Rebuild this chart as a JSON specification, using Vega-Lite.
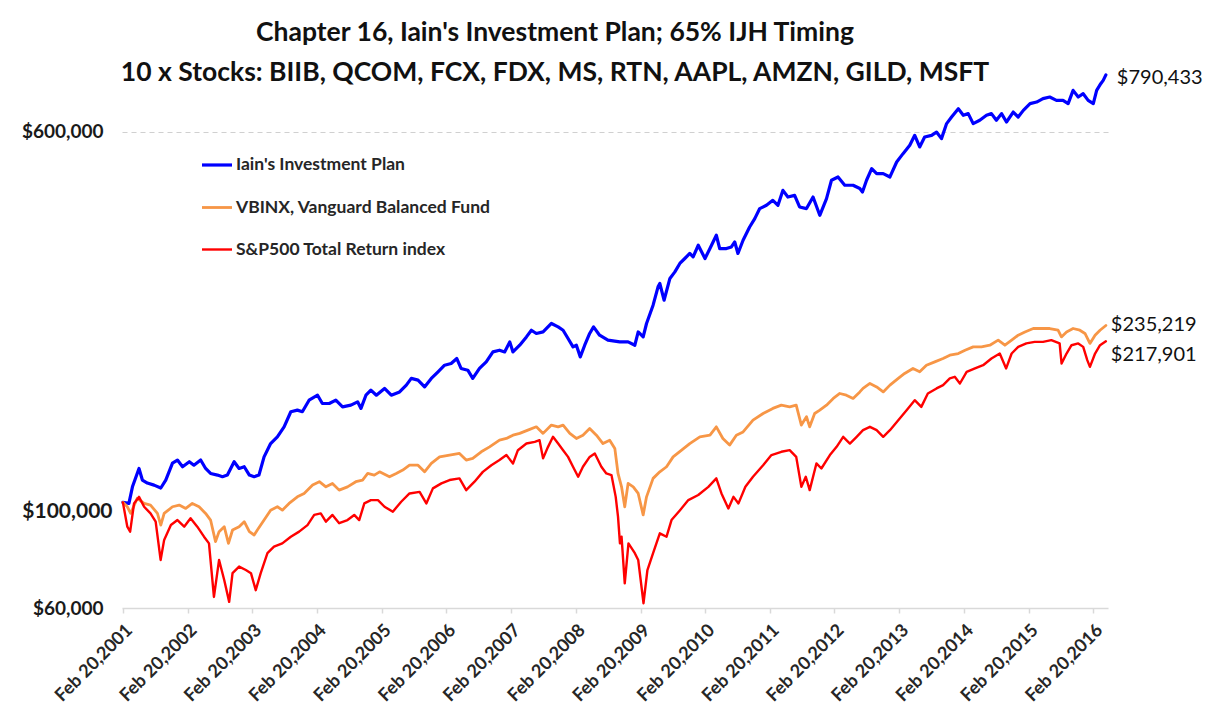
{
"$schema":"https://vega.github.io/schema/vega-lite/v6.json",
"autosize":"none",
"width":986,"height":560,
"padding":{"left":122,"top":48,"right":101,"bottom":106},
"background":"white",
"config":{"view":{"stroke":null},"font":"Lato"},
"title":{"text":["Chapter 16, Iain's Investment Plan; 65% IJH Timing","10 x Stocks: BIIB, QCOM, FCX, FDX, MS, RTN, AAPL, AMZN, GILD, MSFT"],"font":"Lato","fontSize":26.5,"fontWeight":"bold","color":"#111111","anchor":"middle","frame":"group","dx":-60,"offset":-38,"lineHeight":40},
"data":{"values":[
{"series":"Iain's Investment Plan","date":"2001-02-20","value":100000},
{"series":"Iain's Investment Plan","date":"2001-03-26","value":99500},
{"series":"Iain's Investment Plan","date":"2001-04-15","value":107800},
{"series":"Iain's Investment Plan","date":"2001-05-22","value":117800},
{"series":"Iain's Investment Plan","date":"2001-06-10","value":111400},
{"series":"Iain's Investment Plan","date":"2001-07-08","value":109800},
{"series":"Iain's Investment Plan","date":"2001-08-15","value":108700},
{"series":"Iain's Investment Plan","date":"2001-09-22","value":107200},
{"series":"Iain's Investment Plan","date":"2001-10-20","value":111400},
{"series":"Iain's Investment Plan","date":"2001-11-27","value":120900},
{"series":"Iain's Investment Plan","date":"2001-12-25","value":122700},
{"series":"Iain's Investment Plan","date":"2002-01-23","value":118800},
{"series":"Iain's Investment Plan","date":"2002-03-02","value":121700},
{"series":"Iain's Investment Plan","date":"2002-03-28","value":119700},
{"series":"Iain's Investment Plan","date":"2002-05-05","value":122700},
{"series":"Iain's Investment Plan","date":"2002-06-02","value":117800},
{"series":"Iain's Investment Plan","date":"2002-06-30","value":115000},
{"series":"Iain's Investment Plan","date":"2002-08-08","value":114100},
{"series":"Iain's Investment Plan","date":"2002-09-05","value":113200},
{"series":"Iain's Investment Plan","date":"2002-10-03","value":114100},
{"series":"Iain's Investment Plan","date":"2002-11-10","value":121700},
{"series":"Iain's Investment Plan","date":"2002-12-08","value":117800},
{"series":"Iain's Investment Plan","date":"2003-01-06","value":118800},
{"series":"Iain's Investment Plan","date":"2003-02-04","value":114100},
{"series":"Iain's Investment Plan","date":"2003-03-03","value":113200},
{"series":"Iain's Investment Plan","date":"2003-03-30","value":114100},
{"series":"Iain's Investment Plan","date":"2003-04-28","value":124600},
{"series":"Iain's Investment Plan","date":"2003-06-04","value":132900},
{"series":"Iain's Investment Plan","date":"2003-07-12","value":137300},
{"series":"Iain's Investment Plan","date":"2003-08-19","value":144100},
{"series":"Iain's Investment Plan","date":"2003-09-26","value":155000},
{"series":"Iain's Investment Plan","date":"2003-11-02","value":156200},
{"series":"Iain's Investment Plan","date":"2003-11-30","value":155000},
{"series":"Iain's Investment Plan","date":"2004-01-07","value":163900},
{"series":"Iain's Investment Plan","date":"2004-02-24","value":167900},
{"series":"Iain's Investment Plan","date":"2004-03-22","value":161300},
{"series":"Iain's Investment Plan","date":"2004-04-30","value":161300},
{"series":"Iain's Investment Plan","date":"2004-06-06","value":163900},
{"series":"Iain's Investment Plan","date":"2004-07-14","value":158700},
{"series":"Iain's Investment Plan","date":"2004-08-30","value":160000},
{"series":"Iain's Investment Plan","date":"2004-10-07","value":162600},
{"series":"Iain's Investment Plan","date":"2004-10-26","value":157500},
{"series":"Iain's Investment Plan","date":"2004-11-23","value":167900},
{"series":"Iain's Investment Plan","date":"2004-12-21","value":172100},
{"series":"Iain's Investment Plan","date":"2005-01-21","value":167900},
{"series":"Iain's Investment Plan","date":"2005-03-08","value":173500},
{"series":"Iain's Investment Plan","date":"2005-04-15","value":167900},
{"series":"Iain's Investment Plan","date":"2005-06-01","value":170600},
{"series":"Iain's Investment Plan","date":"2005-07-09","value":176300},
{"series":"Iain's Investment Plan","date":"2005-08-06","value":182100},
{"series":"Iain's Investment Plan","date":"2005-09-13","value":180600},
{"series":"Iain's Investment Plan","date":"2005-10-20","value":174800},
{"series":"Iain's Investment Plan","date":"2005-11-27","value":182100},
{"series":"Iain's Investment Plan","date":"2006-01-04","value":188000},
{"series":"Iain's Investment Plan","date":"2006-02-10","value":194100},
{"series":"Iain's Investment Plan","date":"2006-03-19","value":195700},
{"series":"Iain's Investment Plan","date":"2006-04-20","value":200500},
{"series":"Iain's Investment Plan","date":"2006-05-14","value":191100},
{"series":"Iain's Investment Plan","date":"2006-06-21","value":189500},
{"series":"Iain's Investment Plan","date":"2006-07-19","value":182100},
{"series":"Iain's Investment Plan","date":"2006-08-26","value":191100},
{"series":"Iain's Investment Plan","date":"2006-10-03","value":197300},
{"series":"Iain's Investment Plan","date":"2006-11-10","value":207000},
{"series":"Iain's Investment Plan","date":"2006-12-17","value":208700},
{"series":"Iain's Investment Plan","date":"2007-01-15","value":207000},
{"series":"Iain's Investment Plan","date":"2007-02-13","value":217300},
{"series":"Iain's Investment Plan","date":"2007-03-03","value":207000},
{"series":"Iain's Investment Plan","date":"2007-04-10","value":213800},
{"series":"Iain's Investment Plan","date":"2007-05-18","value":222600},
{"series":"Iain's Investment Plan","date":"2007-06-15","value":229900},
{"series":"Iain's Investment Plan","date":"2007-07-13","value":226300},
{"series":"Iain's Investment Plan","date":"2007-08-20","value":228000},
{"series":"Iain's Investment Plan","date":"2007-10-06","value":237500},
{"series":"Iain's Investment Plan","date":"2007-11-13","value":233600},
{"series":"Iain's Investment Plan","date":"2007-12-11","value":229900},
{"series":"Iain's Investment Plan","date":"2008-01-08","value":220900},
{"series":"Iain's Investment Plan","date":"2008-02-05","value":212100},
{"series":"Iain's Investment Plan","date":"2008-02-24","value":213800},
{"series":"Iain's Investment Plan","date":"2008-03-17","value":202100},
{"series":"Iain's Investment Plan","date":"2008-04-11","value":213800},
{"series":"Iain's Investment Plan","date":"2008-05-09","value":226300},
{"series":"Iain's Investment Plan","date":"2008-05-31","value":233600},
{"series":"Iain's Investment Plan","date":"2008-07-04","value":224400},
{"series":"Iain's Investment Plan","date":"2008-08-20","value":219100},
{"series":"Iain's Investment Plan","date":"2008-10-26","value":217300},
{"series":"Iain's Investment Plan","date":"2008-12-12","value":217300},
{"series":"Iain's Investment Plan","date":"2009-01-19","value":213800},
{"series":"Iain's Investment Plan","date":"2009-02-07","value":228000},
{"series":"Iain's Investment Plan","date":"2009-03-07","value":222600},
{"series":"Iain's Investment Plan","date":"2009-03-26","value":237500},
{"series":"Iain's Investment Plan","date":"2009-05-02","value":259500},
{"series":"Iain's Investment Plan","date":"2009-05-30","value":283600},
{"series":"Iain's Investment Plan","date":"2009-06-09","value":288200},
{"series":"Iain's Investment Plan","date":"2009-07-03","value":265800},
{"series":"Iain's Investment Plan","date":"2009-08-05","value":295300},
{"series":"Iain's Investment Plan","date":"2009-09-02","value":304800},
{"series":"Iain's Investment Plan","date":"2009-09-30","value":317500},
{"series":"Iain's Investment Plan","date":"2009-10-28","value":325200},
{"series":"Iain's Investment Plan","date":"2009-11-25","value":333200},
{"series":"Iain's Investment Plan","date":"2009-12-14","value":327700},
{"series":"Iain's Investment Plan","date":"2010-01-12","value":346700},
{"series":"Iain's Investment Plan","date":"2010-02-19","value":325200},
{"series":"Iain's Investment Plan","date":"2010-03-19","value":341200},
{"series":"Iain's Investment Plan","date":"2010-04-24","value":363900},
{"series":"Iain's Investment Plan","date":"2010-05-13","value":341200},
{"series":"Iain's Investment Plan","date":"2010-06-20","value":341200},
{"series":"Iain's Investment Plan","date":"2010-07-18","value":343900},
{"series":"Iain's Investment Plan","date":"2010-08-06","value":352300},
{"series":"Iain's Investment Plan","date":"2010-08-24","value":333200},
{"series":"Iain's Investment Plan","date":"2010-09-22","value":355200},
{"series":"Iain's Investment Plan","date":"2010-10-29","value":378700},
{"series":"Iain's Investment Plan","date":"2010-11-27","value":394400},
{"series":"Iain's Investment Plan","date":"2010-12-25","value":414000},
{"series":"Iain's Investment Plan","date":"2011-02-01","value":420600},
{"series":"Iain's Investment Plan","date":"2011-03-09","value":430900},
{"series":"Iain's Investment Plan","date":"2011-04-07","value":420600},
{"series":"Iain's Investment Plan","date":"2011-05-05","value":452200},
{"series":"Iain's Investment Plan","date":"2011-06-02","value":437800},
{"series":"Iain's Investment Plan","date":"2011-07-10","value":441400},
{"series":"Iain's Investment Plan","date":"2011-08-07","value":417200},
{"series":"Iain's Investment Plan","date":"2011-09-15","value":414000},
{"series":"Iain's Investment Plan","date":"2011-10-22","value":437800},
{"series":"Iain's Investment Plan","date":"2011-11-29","value":400800},
{"series":"Iain's Investment Plan","date":"2012-01-06","value":434400},
{"series":"Iain's Investment Plan","date":"2012-02-03","value":474800},
{"series":"Iain's Investment Plan","date":"2012-03-11","value":482400},
{"series":"Iain's Investment Plan","date":"2012-04-18","value":463400},
{"series":"Iain's Investment Plan","date":"2012-06-04","value":463400},
{"series":"Iain's Investment Plan","date":"2012-07-12","value":456100},
{"series":"Iain's Investment Plan","date":"2012-07-27","value":448700},
{"series":"Iain's Investment Plan","date":"2012-08-19","value":474800},
{"series":"Iain's Investment Plan","date":"2012-09-17","value":502300},
{"series":"Iain's Investment Plan","date":"2012-10-15","value":490300},
{"series":"Iain's Investment Plan","date":"2012-11-21","value":490300},
{"series":"Iain's Investment Plan","date":"2012-12-29","value":482400},
{"series":"Iain's Investment Plan","date":"2013-02-05","value":518600},
{"series":"Iain's Investment Plan","date":"2013-03-13","value":540000},
{"series":"Iain's Investment Plan","date":"2013-04-20","value":562200},
{"series":"Iain's Investment Plan","date":"2013-05-18","value":590000},
{"series":"Iain's Investment Plan","date":"2013-06-15","value":557700},
{"series":"Iain's Investment Plan","date":"2013-07-13","value":585300},
{"series":"Iain's Investment Plan","date":"2013-08-21","value":590000},
{"series":"Iain's Investment Plan","date":"2013-09-18","value":599400},
{"series":"Iain's Investment Plan","date":"2013-10-16","value":580700},
{"series":"Iain's Investment Plan","date":"2013-11-14","value":624400},
{"series":"Iain's Investment Plan","date":"2013-12-12","value":644600},
{"series":"Iain's Investment Plan","date":"2014-01-19","value":671300},
{"series":"Iain's Investment Plan","date":"2014-02-16","value":649900},
{"series":"Iain's Investment Plan","date":"2014-03-16","value":655300},
{"series":"Iain's Investment Plan","date":"2014-04-13","value":624400},
{"series":"Iain's Investment Plan","date":"2014-05-20","value":634500},
{"series":"Iain's Investment Plan","date":"2014-06-27","value":649900},
{"series":"Iain's Investment Plan","date":"2014-07-25","value":655300},
{"series":"Iain's Investment Plan","date":"2014-08-22","value":634500},
{"series":"Iain's Investment Plan","date":"2014-09-20","value":655300},
{"series":"Iain's Investment Plan","date":"2014-10-18","value":629300},
{"series":"Iain's Investment Plan","date":"2014-11-25","value":660300},
{"series":"Iain's Investment Plan","date":"2014-12-23","value":644600},
{"series":"Iain's Investment Plan","date":"2015-01-21","value":665700},
{"series":"Iain's Investment Plan","date":"2015-02-28","value":687600},
{"series":"Iain's Investment Plan","date":"2015-04-06","value":693000},
{"series":"Iain's Investment Plan","date":"2015-05-12","value":704500},
{"series":"Iain's Investment Plan","date":"2015-06-19","value":710000},
{"series":"Iain's Investment Plan","date":"2015-07-27","value":698700},
{"series":"Iain's Investment Plan","date":"2015-09-02","value":698700},
{"series":"Iain's Investment Plan","date":"2015-10-01","value":687600},
{"series":"Iain's Investment Plan","date":"2015-10-29","value":733300},
{"series":"Iain's Investment Plan","date":"2015-11-27","value":710000},
{"series":"Iain's Investment Plan","date":"2015-12-25","value":721600},
{"series":"Iain's Investment Plan","date":"2016-01-22","value":698700},
{"series":"Iain's Investment Plan","date":"2016-02-20","value":687600},
{"series":"Iain's Investment Plan","date":"2016-03-10","value":733300},
{"series":"Iain's Investment Plan","date":"2016-04-02","value":757300},
{"series":"Iain's Investment Plan","date":"2016-04-16","value":769600},
{"series":"Iain's Investment Plan","date":"2016-05-01","value":790433},
{"series":"VBINX, Vanguard Balanced Fund","date":"2001-02-20","value":100000},
{"series":"VBINX, Vanguard Balanced Fund","date":"2001-03-17","value":97900},
{"series":"VBINX, Vanguard Balanced Fund","date":"2001-04-05","value":94800},
{"series":"VBINX, Vanguard Balanced Fund","date":"2001-05-12","value":102000},
{"series":"VBINX, Vanguard Balanced Fund","date":"2001-06-20","value":99500},
{"series":"VBINX, Vanguard Balanced Fund","date":"2001-07-26","value":98700},
{"series":"VBINX, Vanguard Balanced Fund","date":"2001-09-03","value":94800},
{"series":"VBINX, Vanguard Balanced Fund","date":"2001-09-22","value":89600},
{"series":"VBINX, Vanguard Balanced Fund","date":"2001-10-11","value":94800},
{"series":"VBINX, Vanguard Balanced Fund","date":"2001-11-27","value":97900},
{"series":"VBINX, Vanguard Balanced Fund","date":"2002-01-04","value":98700},
{"series":"VBINX, Vanguard Balanced Fund","date":"2002-02-10","value":97100},
{"series":"VBINX, Vanguard Balanced Fund","date":"2002-03-19","value":99500},
{"series":"VBINX, Vanguard Balanced Fund","date":"2002-04-26","value":97900},
{"series":"VBINX, Vanguard Balanced Fund","date":"2002-06-02","value":94800},
{"series":"VBINX, Vanguard Balanced Fund","date":"2002-06-30","value":91800},
{"series":"VBINX, Vanguard Balanced Fund","date":"2002-07-28","value":82700},
{"series":"VBINX, Vanguard Balanced Fund","date":"2002-08-17","value":86800},
{"series":"VBINX, Vanguard Balanced Fund","date":"2002-09-15","value":88900},
{"series":"VBINX, Vanguard Balanced Fund","date":"2002-10-09","value":82000},
{"series":"VBINX, Vanguard Balanced Fund","date":"2002-11-01","value":87500},
{"series":"VBINX, Vanguard Balanced Fund","date":"2002-12-08","value":88900},
{"series":"VBINX, Vanguard Balanced Fund","date":"2003-01-06","value":91100},
{"series":"VBINX, Vanguard Balanced Fund","date":"2003-02-04","value":86800},
{"series":"VBINX, Vanguard Balanced Fund","date":"2003-03-03","value":85400},
{"series":"VBINX, Vanguard Balanced Fund","date":"2003-03-21","value":87500},
{"series":"VBINX, Vanguard Balanced Fund","date":"2003-04-28","value":91800},
{"series":"VBINX, Vanguard Balanced Fund","date":"2003-06-04","value":96300},
{"series":"VBINX, Vanguard Balanced Fund","date":"2003-07-12","value":97900},
{"series":"VBINX, Vanguard Balanced Fund","date":"2003-08-09","value":96300},
{"series":"VBINX, Vanguard Balanced Fund","date":"2003-09-16","value":99500},
{"series":"VBINX, Vanguard Balanced Fund","date":"2003-11-02","value":102700},
{"series":"VBINX, Vanguard Balanced Fund","date":"2003-12-10","value":104400},
{"series":"VBINX, Vanguard Balanced Fund","date":"2004-01-27","value":108700},
{"series":"VBINX, Vanguard Balanced Fund","date":"2004-03-05","value":110500},
{"series":"VBINX, Vanguard Balanced Fund","date":"2004-04-11","value":107800},
{"series":"VBINX, Vanguard Balanced Fund","date":"2004-05-18","value":109600},
{"series":"VBINX, Vanguard Balanced Fund","date":"2004-06-25","value":106100},
{"series":"VBINX, Vanguard Balanced Fund","date":"2004-08-11","value":107800},
{"series":"VBINX, Vanguard Balanced Fund","date":"2004-09-27","value":110500},
{"series":"VBINX, Vanguard Balanced Fund","date":"2004-11-04","value":111400},
{"series":"VBINX, Vanguard Balanced Fund","date":"2004-12-03","value":115000},
{"series":"VBINX, Vanguard Balanced Fund","date":"2005-01-09","value":114100},
{"series":"VBINX, Vanguard Balanced Fund","date":"2005-02-08","value":115900},
{"series":"VBINX, Vanguard Balanced Fund","date":"2005-04-05","value":113200},
{"series":"VBINX, Vanguard Balanced Fund","date":"2005-05-13","value":115000},
{"series":"VBINX, Vanguard Balanced Fund","date":"2005-06-19","value":116900},
{"series":"VBINX, Vanguard Balanced Fund","date":"2005-07-27","value":119700},
{"series":"VBINX, Vanguard Balanced Fund","date":"2005-09-13","value":119700},
{"series":"VBINX, Vanguard Balanced Fund","date":"2005-10-20","value":115900},
{"series":"VBINX, Vanguard Balanced Fund","date":"2005-11-27","value":120700},
{"series":"VBINX, Vanguard Balanced Fund","date":"2006-01-13","value":124600},
{"series":"VBINX, Vanguard Balanced Fund","date":"2006-03-10","value":125700},
{"series":"VBINX, Vanguard Balanced Fund","date":"2006-05-05","value":126700},
{"series":"VBINX, Vanguard Balanced Fund","date":"2006-06-12","value":122700},
{"series":"VBINX, Vanguard Balanced Fund","date":"2006-07-19","value":123700},
{"series":"VBINX, Vanguard Balanced Fund","date":"2006-09-05","value":127700},
{"series":"VBINX, Vanguard Balanced Fund","date":"2006-10-22","value":130800},
{"series":"VBINX, Vanguard Balanced Fund","date":"2006-12-17","value":135100},
{"series":"VBINX, Vanguard Balanced Fund","date":"2007-01-25","value":136200},
{"series":"VBINX, Vanguard Balanced Fund","date":"2007-03-03","value":138400},
{"series":"VBINX, Vanguard Balanced Fund","date":"2007-04-10","value":139600},
{"series":"VBINX, Vanguard Balanced Fund","date":"2007-05-26","value":141800},
{"series":"VBINX, Vanguard Balanced Fund","date":"2007-07-13","value":144100},
{"series":"VBINX, Vanguard Balanced Fund","date":"2007-08-20","value":139600},
{"series":"VBINX, Vanguard Balanced Fund","date":"2007-10-06","value":145300},
{"series":"VBINX, Vanguard Balanced Fund","date":"2007-11-13","value":144100},
{"series":"VBINX, Vanguard Balanced Fund","date":"2007-12-11","value":145300},
{"series":"VBINX, Vanguard Balanced Fund","date":"2008-01-18","value":139600},
{"series":"VBINX, Vanguard Balanced Fund","date":"2008-02-24","value":136200},
{"series":"VBINX, Vanguard Balanced Fund","date":"2008-04-01","value":138400},
{"series":"VBINX, Vanguard Balanced Fund","date":"2008-05-09","value":143000},
{"series":"VBINX, Vanguard Balanced Fund","date":"2008-06-16","value":138400},
{"series":"VBINX, Vanguard Balanced Fund","date":"2008-07-23","value":132900},
{"series":"VBINX, Vanguard Balanced Fund","date":"2008-08-30","value":135100},
{"series":"VBINX, Vanguard Balanced Fund","date":"2008-09-28","value":129800},
{"series":"VBINX, Vanguard Balanced Fund","date":"2008-10-16","value":115000},
{"series":"VBINX, Vanguard Balanced Fund","date":"2008-11-05","value":107800},
{"series":"VBINX, Vanguard Balanced Fund","date":"2008-11-23","value":97900},
{"series":"VBINX, Vanguard Balanced Fund","date":"2008-12-12","value":109600},
{"series":"VBINX, Vanguard Balanced Fund","date":"2009-01-10","value":107800},
{"series":"VBINX, Vanguard Balanced Fund","date":"2009-02-07","value":104400},
{"series":"VBINX, Vanguard Balanced Fund","date":"2009-03-07","value":94100},
{"series":"VBINX, Vanguard Balanced Fund","date":"2009-03-26","value":102700},
{"series":"VBINX, Vanguard Balanced Fund","date":"2009-05-02","value":112300},
{"series":"VBINX, Vanguard Balanced Fund","date":"2009-06-09","value":115900},
{"series":"VBINX, Vanguard Balanced Fund","date":"2009-07-17","value":118800},
{"series":"VBINX, Vanguard Balanced Fund","date":"2009-08-23","value":124600},
{"series":"VBINX, Vanguard Balanced Fund","date":"2009-10-10","value":128700},
{"series":"VBINX, Vanguard Balanced Fund","date":"2009-11-25","value":132900},
{"series":"VBINX, Vanguard Balanced Fund","date":"2010-01-21","value":137300},
{"series":"VBINX, Vanguard Balanced Fund","date":"2010-03-19","value":138400},
{"series":"VBINX, Vanguard Balanced Fund","date":"2010-04-24","value":144100},
{"series":"VBINX, Vanguard Balanced Fund","date":"2010-05-31","value":136200},
{"series":"VBINX, Vanguard Balanced Fund","date":"2010-07-08","value":131900},
{"series":"VBINX, Vanguard Balanced Fund","date":"2010-08-15","value":138400},
{"series":"VBINX, Vanguard Balanced Fund","date":"2010-09-22","value":140600},
{"series":"VBINX, Vanguard Balanced Fund","date":"2010-11-17","value":148800},
{"series":"VBINX, Vanguard Balanced Fund","date":"2011-01-13","value":153700},
{"series":"VBINX, Vanguard Balanced Fund","date":"2011-03-09","value":157500},
{"series":"VBINX, Vanguard Balanced Fund","date":"2011-04-26","value":160000},
{"series":"VBINX, Vanguard Balanced Fund","date":"2011-06-12","value":158700},
{"series":"VBINX, Vanguard Balanced Fund","date":"2011-07-19","value":160000},
{"series":"VBINX, Vanguard Balanced Fund","date":"2011-08-17","value":145300},
{"series":"VBINX, Vanguard Balanced Fund","date":"2011-09-15","value":151300},
{"series":"VBINX, Vanguard Balanced Fund","date":"2011-10-03","value":144100},
{"series":"VBINX, Vanguard Balanced Fund","date":"2011-10-31","value":153700},
{"series":"VBINX, Vanguard Balanced Fund","date":"2011-11-29","value":156200},
{"series":"VBINX, Vanguard Balanced Fund","date":"2012-01-06","value":160000},
{"series":"VBINX, Vanguard Balanced Fund","date":"2012-02-13","value":165300},
{"series":"VBINX, Vanguard Balanced Fund","date":"2012-03-21","value":169300},
{"series":"VBINX, Vanguard Balanced Fund","date":"2012-04-27","value":167900},
{"series":"VBINX, Vanguard Balanced Fund","date":"2012-06-04","value":165300},
{"series":"VBINX, Vanguard Balanced Fund","date":"2012-07-12","value":170600},
{"series":"VBINX, Vanguard Balanced Fund","date":"2012-07-30","value":173500},
{"series":"VBINX, Vanguard Balanced Fund","date":"2012-09-07","value":177700},
{"series":"VBINX, Vanguard Balanced Fund","date":"2012-10-15","value":174800},
{"series":"VBINX, Vanguard Balanced Fund","date":"2012-11-21","value":170600},
{"series":"VBINX, Vanguard Balanced Fund","date":"2012-12-29","value":176300},
{"series":"VBINX, Vanguard Balanced Fund","date":"2013-02-14","value":182100},
{"series":"VBINX, Vanguard Balanced Fund","date":"2013-03-22","value":186500},
{"series":"VBINX, Vanguard Balanced Fund","date":"2013-05-08","value":191100},
{"series":"VBINX, Vanguard Balanced Fund","date":"2013-06-15","value":188000},
{"series":"VBINX, Vanguard Balanced Fund","date":"2013-07-23","value":194100},
{"series":"VBINX, Vanguard Balanced Fund","date":"2013-09-08","value":197300},
{"series":"VBINX, Vanguard Balanced Fund","date":"2013-10-25","value":200500},
{"series":"VBINX, Vanguard Balanced Fund","date":"2013-12-02","value":203800},
{"series":"VBINX, Vanguard Balanced Fund","date":"2014-01-19","value":205400},
{"series":"VBINX, Vanguard Balanced Fund","date":"2014-02-26","value":208700},
{"series":"VBINX, Vanguard Balanced Fund","date":"2014-04-13","value":212100},
{"series":"VBINX, Vanguard Balanced Fund","date":"2014-05-30","value":212100},
{"series":"VBINX, Vanguard Balanced Fund","date":"2014-07-16","value":213800},
{"series":"VBINX, Vanguard Balanced Fund","date":"2014-09-01","value":219100},
{"series":"VBINX, Vanguard Balanced Fund","date":"2014-10-09","value":213800},
{"series":"VBINX, Vanguard Balanced Fund","date":"2014-11-16","value":219100},
{"series":"VBINX, Vanguard Balanced Fund","date":"2014-12-23","value":224400},
{"series":"VBINX, Vanguard Balanced Fund","date":"2015-01-30","value":228000},
{"series":"VBINX, Vanguard Balanced Fund","date":"2015-03-18","value":231800},
{"series":"VBINX, Vanguard Balanced Fund","date":"2015-05-03","value":231800},
{"series":"VBINX, Vanguard Balanced Fund","date":"2015-06-19","value":231800},
{"series":"VBINX, Vanguard Balanced Fund","date":"2015-08-05","value":229900},
{"series":"VBINX, Vanguard Balanced Fund","date":"2015-08-24","value":222600},
{"series":"VBINX, Vanguard Balanced Fund","date":"2015-09-22","value":228000},
{"series":"VBINX, Vanguard Balanced Fund","date":"2015-10-29","value":231800},
{"series":"VBINX, Vanguard Balanced Fund","date":"2015-12-06","value":229900},
{"series":"VBINX, Vanguard Balanced Fund","date":"2016-01-04","value":226300},
{"series":"VBINX, Vanguard Balanced Fund","date":"2016-02-01","value":215700},
{"series":"VBINX, Vanguard Balanced Fund","date":"2016-03-01","value":224400},
{"series":"VBINX, Vanguard Balanced Fund","date":"2016-03-29","value":229900},
{"series":"VBINX, Vanguard Balanced Fund","date":"2016-05-01","value":235219},
{"series":"S&P500 Total Return index","date":"2001-02-20","value":100000},
{"series":"S&P500 Total Return index","date":"2001-03-17","value":88900},
{"series":"S&P500 Total Return index","date":"2001-04-02","value":86800},
{"series":"S&P500 Total Return index","date":"2001-04-24","value":99500},
{"series":"S&P500 Total Return index","date":"2001-05-22","value":102700},
{"series":"S&P500 Total Return index","date":"2001-06-20","value":97900},
{"series":"S&P500 Total Return index","date":"2001-07-26","value":94800},
{"series":"S&P500 Total Return index","date":"2001-08-24","value":91100},
{"series":"S&P500 Total Return index","date":"2001-09-21","value":75700},
{"series":"S&P500 Total Return index","date":"2001-10-11","value":83400},
{"series":"S&P500 Total Return index","date":"2001-11-18","value":89600},
{"series":"S&P500 Total Return index","date":"2001-12-25","value":91800},
{"series":"S&P500 Total Return index","date":"2002-02-01","value":88900},
{"series":"S&P500 Total Return index","date":"2002-03-09","value":92600},
{"series":"S&P500 Total Return index","date":"2002-04-16","value":88900},
{"series":"S&P500 Total Return index","date":"2002-05-24","value":84700},
{"series":"S&P500 Total Return index","date":"2002-06-21","value":82000},
{"series":"S&P500 Total Return index","date":"2002-07-19","value":63300},
{"series":"S&P500 Total Return index","date":"2002-08-17","value":75700},
{"series":"S&P500 Total Return index","date":"2002-09-15","value":68700},
{"series":"S&P500 Total Return index","date":"2002-10-13","value":61800},
{"series":"S&P500 Total Return index","date":"2002-11-01","value":71000},
{"series":"S&P500 Total Return index","date":"2002-12-08","value":73300},
{"series":"S&P500 Total Return index","date":"2003-01-15","value":72100},
{"series":"S&P500 Total Return index","date":"2003-02-13","value":71000},
{"series":"S&P500 Total Return index","date":"2003-03-12","value":65400},
{"series":"S&P500 Total Return index","date":"2003-04-09","value":71000},
{"series":"S&P500 Total Return index","date":"2003-05-17","value":78200},
{"series":"S&P500 Total Return index","date":"2003-06-23","value":80700},
{"series":"S&P500 Total Return index","date":"2003-08-09","value":82000},
{"series":"S&P500 Total Return index","date":"2003-09-26","value":84700},
{"series":"S&P500 Total Return index","date":"2003-11-12","value":86800},
{"series":"S&P500 Total Return index","date":"2003-12-29","value":89600},
{"series":"S&P500 Total Return index","date":"2004-02-05","value":94100},
{"series":"S&P500 Total Return index","date":"2004-03-13","value":94800},
{"series":"S&P500 Total Return index","date":"2004-04-11","value":91100},
{"series":"S&P500 Total Return index","date":"2004-05-18","value":94100},
{"series":"S&P500 Total Return index","date":"2004-06-25","value":90400},
{"series":"S&P500 Total Return index","date":"2004-08-11","value":91800},
{"series":"S&P500 Total Return index","date":"2004-09-18","value":94100},
{"series":"S&P500 Total Return index","date":"2004-10-16","value":91800},
{"series":"S&P500 Total Return index","date":"2004-11-14","value":99500},
{"series":"S&P500 Total Return index","date":"2004-12-21","value":101100},
{"series":"S&P500 Total Return index","date":"2005-01-30","value":101100},
{"series":"S&P500 Total Return index","date":"2005-03-08","value":97900},
{"series":"S&P500 Total Return index","date":"2005-04-24","value":95600},
{"series":"S&P500 Total Return index","date":"2005-06-10","value":100300},
{"series":"S&P500 Total Return index","date":"2005-07-27","value":104400},
{"series":"S&P500 Total Return index","date":"2005-09-22","value":105200},
{"series":"S&P500 Total Return index","date":"2005-10-30","value":99500},
{"series":"S&P500 Total Return index","date":"2005-12-06","value":107000},
{"series":"S&P500 Total Return index","date":"2006-01-23","value":109600},
{"series":"S&P500 Total Return index","date":"2006-03-10","value":111400},
{"series":"S&P500 Total Return index","date":"2006-05-05","value":112300},
{"series":"S&P500 Total Return index","date":"2006-06-12","value":106100},
{"series":"S&P500 Total Return index","date":"2006-07-29","value":110500},
{"series":"S&P500 Total Return index","date":"2006-09-14","value":115900},
{"series":"S&P500 Total Return index","date":"2006-11-01","value":119700},
{"series":"S&P500 Total Return index","date":"2006-12-17","value":122700},
{"series":"S&P500 Total Return index","date":"2007-01-25","value":125700},
{"series":"S&P500 Total Return index","date":"2007-03-03","value":120700},
{"series":"S&P500 Total Return index","date":"2007-03-31","value":128700},
{"series":"S&P500 Total Return index","date":"2007-05-18","value":132900},
{"series":"S&P500 Total Return index","date":"2007-07-04","value":134000},
{"series":"S&P500 Total Return index","date":"2007-07-31","value":135100},
{"series":"S&P500 Total Return index","date":"2007-08-20","value":123700},
{"series":"S&P500 Total Return index","date":"2007-09-17","value":130800},
{"series":"S&P500 Total Return index","date":"2007-10-15","value":137300},
{"series":"S&P500 Total Return index","date":"2007-11-13","value":132900},
{"series":"S&P500 Total Return index","date":"2007-12-11","value":128700},
{"series":"S&P500 Total Return index","date":"2008-01-08","value":124600},
{"series":"S&P500 Total Return index","date":"2008-02-05","value":118800},
{"series":"S&P500 Total Return index","date":"2008-03-05","value":113200},
{"series":"S&P500 Total Return index","date":"2008-04-01","value":118800},
{"series":"S&P500 Total Return index","date":"2008-05-09","value":124600},
{"series":"S&P500 Total Return index","date":"2008-06-07","value":126700},
{"series":"S&P500 Total Return index","date":"2008-07-14","value":118800},
{"series":"S&P500 Total Return index","date":"2008-08-11","value":115000},
{"series":"S&P500 Total Return index","date":"2008-09-09","value":114100},
{"series":"S&P500 Total Return index","date":"2008-10-03","value":102700},
{"series":"S&P500 Total Return index","date":"2008-10-16","value":93300},
{"series":"S&P500 Total Return index","date":"2008-10-27","value":82000},
{"series":"S&P500 Total Return index","date":"2008-11-05","value":84700},
{"series":"S&P500 Total Return index","date":"2008-11-23","value":67600},
{"series":"S&P500 Total Return index","date":"2008-12-14","value":82000},
{"series":"S&P500 Total Return index","date":"2009-01-19","value":78200},
{"series":"S&P500 Total Return index","date":"2009-02-07","value":75700},
{"series":"S&P500 Total Return index","date":"2009-03-09","value":61400},
{"series":"S&P500 Total Return index","date":"2009-03-31","value":72100},
{"series":"S&P500 Total Return index","date":"2009-05-02","value":78200},
{"series":"S&P500 Total Return index","date":"2009-06-09","value":86100},
{"series":"S&P500 Total Return index","date":"2009-07-17","value":84700},
{"series":"S&P500 Total Return index","date":"2009-08-14","value":91800},
{"series":"S&P500 Total Return index","date":"2009-10-01","value":96300},
{"series":"S&P500 Total Return index","date":"2009-11-17","value":101100},
{"series":"S&P500 Total Return index","date":"2010-01-12","value":103600},
{"series":"S&P500 Total Return index","date":"2010-03-10","value":107800},
{"series":"S&P500 Total Return index","date":"2010-04-24","value":112300},
{"series":"S&P500 Total Return index","date":"2010-05-23","value":104400},
{"series":"S&P500 Total Return index","date":"2010-07-01","value":97100},
{"series":"S&P500 Total Return index","date":"2010-07-30","value":102700},
{"series":"S&P500 Total Return index","date":"2010-08-27","value":99500},
{"series":"S&P500 Total Return index","date":"2010-10-05","value":107800},
{"series":"S&P500 Total Return index","date":"2010-11-17","value":113200},
{"series":"S&P500 Total Return index","date":"2011-01-13","value":119700},
{"series":"S&P500 Total Return index","date":"2011-03-01","value":125700},
{"series":"S&P500 Total Return index","date":"2011-04-26","value":127700},
{"series":"S&P500 Total Return index","date":"2011-06-12","value":128700},
{"series":"S&P500 Total Return index","date":"2011-07-19","value":124600},
{"series":"S&P500 Total Return index","date":"2011-08-17","value":107800},
{"series":"S&P500 Total Return index","date":"2011-09-11","value":113200},
{"series":"S&P500 Total Return index","date":"2011-10-03","value":106100},
{"series":"S&P500 Total Return index","date":"2011-11-10","value":120700},
{"series":"S&P500 Total Return index","date":"2011-12-08","value":117800},
{"series":"S&P500 Total Return index","date":"2012-01-25","value":125700},
{"series":"S&P500 Total Return index","date":"2012-03-03","value":130800},
{"series":"S&P500 Total Return index","date":"2012-04-09","value":137300},
{"series":"S&P500 Total Return index","date":"2012-05-17","value":132900},
{"series":"S&P500 Total Return index","date":"2012-06-24","value":137300},
{"series":"S&P500 Total Return index","date":"2012-07-30","value":141800},
{"series":"S&P500 Total Return index","date":"2012-09-07","value":144100},
{"series":"S&P500 Total Return index","date":"2012-10-15","value":141800},
{"series":"S&P500 Total Return index","date":"2012-11-21","value":137300},
{"series":"S&P500 Total Return index","date":"2012-12-29","value":141800},
{"series":"S&P500 Total Return index","date":"2013-02-14","value":148800},
{"series":"S&P500 Total Return index","date":"2013-04-02","value":156200},
{"series":"S&P500 Total Return index","date":"2013-05-18","value":163900},
{"series":"S&P500 Total Return index","date":"2013-06-24","value":158700},
{"series":"S&P500 Total Return index","date":"2013-07-31","value":169300},
{"series":"S&P500 Total Return index","date":"2013-09-18","value":173500},
{"series":"S&P500 Total Return index","date":"2013-10-25","value":176300},
{"series":"S&P500 Total Return index","date":"2013-12-02","value":182100},
{"series":"S&P500 Total Return index","date":"2013-12-30","value":183500},
{"series":"S&P500 Total Return index","date":"2014-01-28","value":177700},
{"series":"S&P500 Total Return index","date":"2014-03-07","value":188000},
{"series":"S&P500 Total Return index","date":"2014-04-23","value":191100},
{"series":"S&P500 Total Return index","date":"2014-06-08","value":194100},
{"series":"S&P500 Total Return index","date":"2014-07-25","value":200500},
{"series":"S&P500 Total Return index","date":"2014-09-10","value":205400},
{"series":"S&P500 Total Return index","date":"2014-10-16","value":191100},
{"series":"S&P500 Total Return index","date":"2014-11-16","value":205400},
{"series":"S&P500 Total Return index","date":"2014-12-23","value":212100},
{"series":"S&P500 Total Return index","date":"2015-02-07","value":215700},
{"series":"S&P500 Total Return index","date":"2015-03-26","value":217300},
{"series":"S&P500 Total Return index","date":"2015-05-12","value":217300},
{"series":"S&P500 Total Return index","date":"2015-06-28","value":219100},
{"series":"S&P500 Total Return index","date":"2015-08-14","value":215700},
{"series":"S&P500 Total Return index","date":"2015-08-25","value":195700},
{"series":"S&P500 Total Return index","date":"2015-09-22","value":205400},
{"series":"S&P500 Total Return index","date":"2015-10-20","value":213800},
{"series":"S&P500 Total Return index","date":"2015-11-27","value":215700},
{"series":"S&P500 Total Return index","date":"2015-12-25","value":212100},
{"series":"S&P500 Total Return index","date":"2016-01-17","value":198900},
{"series":"S&P500 Total Return index","date":"2016-02-01","value":192600},
{"series":"S&P500 Total Return index","date":"2016-03-01","value":205400},
{"series":"S&P500 Total Return index","date":"2016-03-29","value":213800},
{"series":"S&P500 Total Return index","date":"2016-05-01","value":217901}
]},
"encoding":{
"x":{"field":"date","type":"temporal","scale":{"domain":[{"year":2001,"month":2,"date":15,"utc":true},{"year":2016,"month":5,"date":13,"utc":true}]},
 "axis":{"title":null,"grid":false,"values":[{"year":2001,"month":2,"date":20,"utc":true},{"year":2002,"month":2,"date":20,"utc":true},{"year":2003,"month":2,"date":20,"utc":true},{"year":2004,"month":2,"date":20,"utc":true},{"year":2005,"month":2,"date":20,"utc":true},{"year":2006,"month":2,"date":20,"utc":true},{"year":2007,"month":2,"date":20,"utc":true},{"year":2008,"month":2,"date":20,"utc":true},{"year":2009,"month":2,"date":20,"utc":true},{"year":2010,"month":2,"date":20,"utc":true},{"year":2011,"month":2,"date":20,"utc":true},{"year":2012,"month":2,"date":20,"utc":true},{"year":2013,"month":2,"date":20,"utc":true},{"year":2014,"month":2,"date":20,"utc":true},{"year":2015,"month":2,"date":20,"utc":true},{"year":2016,"month":2,"date":20,"utc":true}],
 "labelExpr":"utcFormat(datum.value, '%b %d,%Y')","labelAngle":-45,"labelFont":"Lato","labelFontSize":18,"labelFontWeight":"bold","labelColor":"#262626","labelOverlap":false,"labelBound":false,"labelFlush":false,"labelPadding":8,
 "domainColor":"#d9d9d9","domainWidth":1.5,"tickColor":"#d9d9d9","tickSize":5,"tickWidth":1.5}},
"y":{"field":"value","type":"quantitative","scale":{"type":"log","domain":[60000,900000],"nice":false},
 "axis":{"title":null,"values":[60000,100000,600000],"format":"$,.0f","domain":false,"ticks":false,"grid":true,"gridColor":"#d0d0d0","gridDash":[5,4],"gridWidth":1.2,
 "gridOpacity":{"condition":{"test":"datum.value == 600000","value":1},"value":0},
 "labelFont":"Lato","labelFontWeight":"bold","labelColor":"#1a1a1a",
 "labelFontSize":{"condition":{"test":"datum.value == 100000","value":21},"value":19},
 "labelPadding":{"condition":{"test":"datum.value == 100000","value":10},"value":19},
 "labelOffset":{"condition":{"test":"datum.value == 100000","value":9},"value":0}}}
},
"layer":[
{"mark":{"type":"line","strokeJoin":"round","strokeCap":"round"},
 "encoding":{
  "color":{"field":"series","type":"nominal","scale":{"domain":["Iain's Investment Plan","VBINX, Vanguard Balanced Fund","S&P500 Total Return index"],"range":["#0000FF","#F79646","#FF0000"]},
   "legend":{"title":null,"orient":"none","legendX":78,"legendY":100,"direction":"vertical","symbolType":"stroke","symbolSize":900,"symbolStrokeWidth":2.5,"labelFont":"Lato","labelFontSize":17.5,"labelFontWeight":"bold","labelColor":"#262626","rowPadding":17,"labelOffset":2,"padding":0,"labelLimit":500}},
  "strokeWidth":{"field":"series","type":"nominal","scale":{"domain":["Iain's Investment Plan","VBINX, Vanguard Balanced Fund","S&P500 Total Return index"],"range":[3.2,2.4,2.9]},"legend":null}
 }},
{"transform":[{"window":[{"op":"row_number","as":"rn"}],"groupby":["series"],"sort":[{"field":"date","order":"descending"}]},{"filter":"datum.rn == 1 && datum.series == \"Iain's Investment Plan\""}],
 "mark":{"type":"text","align":"left","baseline":"middle","dx":11,"dy":3,"font":"Lato","fontSize":20,"color":"#111111"},
 "encoding":{"text":{"field":"value","type":"quantitative","format":"$,.0f"}}},
{"transform":[{"window":[{"op":"row_number","as":"rn"}],"groupby":["series"],"sort":[{"field":"date","order":"descending"}]},{"filter":"datum.rn == 1 && datum.series == 'VBINX, Vanguard Balanced Fund'"}],
 "mark":{"type":"text","align":"left","baseline":"middle","dx":5,"dy":0,"font":"Lato","fontSize":20,"color":"#111111"},
 "encoding":{"text":{"field":"value","type":"quantitative","format":"$,.0f"}}},
{"transform":[{"window":[{"op":"row_number","as":"rn"}],"groupby":["series"],"sort":[{"field":"date","order":"descending"}]},{"filter":"datum.rn == 1 && datum.series == 'S&P500 Total Return index'"}],
 "mark":{"type":"text","align":"left","baseline":"middle","dx":5,"dy":14,"font":"Lato","fontSize":20,"color":"#111111"},
 "encoding":{"text":{"field":"value","type":"quantitative","format":"$,.0f"}}}
]
}
